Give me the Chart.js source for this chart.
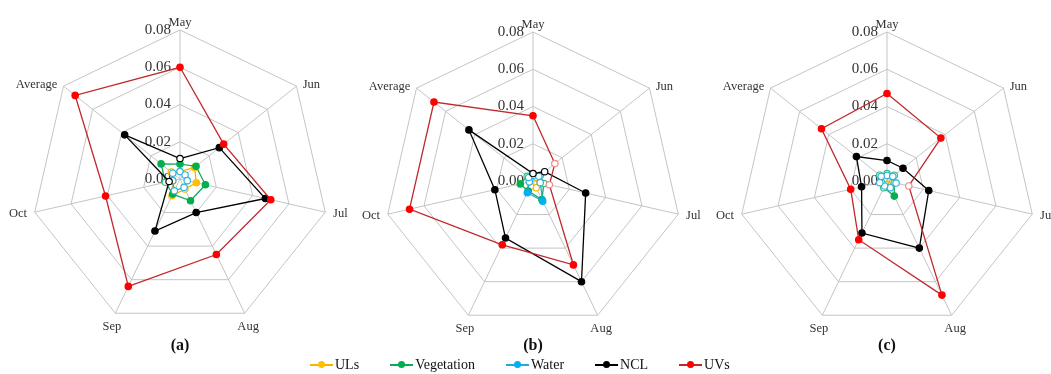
<!DOCTYPE html>
<html>
<head>
<meta charset="utf-8">
<script src="https://cdn.jsdelivr.net/npm/chart.js@4.4.1/dist/chart.umd.min.js"></script>
<style>
  html, body { margin: 0; padding: 0; background: #fff; width: 1051px; height: 374px; overflow: hidden; }
  canvas { position: absolute; top: 0; }
  .tag { position: absolute; top: 336px; width: 60px; text-align: center; font: bold 16px "Liberation Serif", serif; color: #111; }
  #legend { position: absolute; top: 356px; left: 310px; display: flex; gap: 31px; font: 14px "Liberation Serif", serif; color: #111; line-height: 18px; }
  .item { display: flex; align-items: center; white-space: nowrap; }
  .sym { position: relative; display: inline-block; width: 23px; height: 1.6px; margin-right: 2px; }
  .sym i { position: absolute; left: 8px; top: -2.8px; width: 7px; height: 7px; border-radius: 50%; }
</style>
</head>
<body>
<canvas id="ca" width="360" height="374" style="left:0px"></canvas>
<canvas id="cb" width="360" height="374" style="left:353px"></canvas>
<canvas id="cc" width="344" height="374" style="left:707px"></canvas>
<div class="tag" style="left:150px">(a)</div>
<div class="tag" style="left:503px">(b)</div>
<div class="tag" style="left:857px">(c)</div>
<div id="legend"></div>
<script>
// Axes and scale
const categories = ['May', 'Jun', 'Jul', 'Aug', 'Sep', 'Oct', 'Average'];
const tickValues = [0, 0.02, 0.04, 0.06, 0.08];
const tickLabels = ['0.00', '0.02', '0.04', '0.06', '0.08'];
const seriesNames = ['ULs', 'Vegetation', 'Water', 'NCL', 'UVs'];

// Panel (a)
const ulsA   = [0.004, 0.010, 0.009, 0.006, 0.010, 0.004, 0.006];
const vegA   = [0.008, 0.011, 0.014, 0.013, 0.009, 0.008, 0.013];
const waterA = [0.004, 0.0035, 0.004, 0.005, 0.007, 0.004, 0.005];
const nclA   = [0.011, 0.027, 0.047, 0.020, 0.031, 0.006, 0.038];
const uvsA   = [0.060, 0.030, 0.050, 0.045, 0.064, 0.041, 0.072];

// Panel (b)
const ulsB   = [0.002, 0.003, 0.004, 0.004, 0.003, 0.002, 0.002];
const vegB   = [0.004, 0.005, 0.006, 0.011, 0.006, 0.007, 0.004];
const waterB = [0.003, 0.004, 0.004, 0.012, 0.007, 0.002, 0.003];
const nclB   = [0.004, 0.008, 0.029, 0.060, 0.034, 0.021, 0.044];
const uvsB   = [0.035, 0.015, 0.009, 0.050, 0.038, 0.068, 0.068];

// Panel (c)
const ulsC   = [0.003, 0.004, 0.003, 0.003, 0.002, 0.003, 0.002];
const vegC   = [0.004, 0.005, 0.004, 0.009, 0.004, 0.003, 0.005];
const waterC = [0.003, 0.004, 0.005, 0.004, 0.003, 0.004, 0.004];
const nclC   = [0.011, 0.011, 0.023, 0.040, 0.031, 0.014, 0.021];
const uvsC   = [0.047, 0.037, 0.012, 0.068, 0.035, 0.020, 0.045];

// Open (white-filled) markers, 1 = open
const openUlsA   = [1, 0, 0, 1, 0, 1, 1];
const openVegA   = [0, 0, 0, 0, 0, 1, 0];
const openWaterA = [1, 1, 1, 1, 1, 1, 1];
const openNclA   = [1, 0, 0, 0, 0, 1, 0];
const openUvsA   = [0, 0, 0, 0, 0, 0, 0];

const openUlsB   = [1, 1, 1, 1, 1, 1, 1];
const openVegB   = [1, 1, 1, 0, 0, 0, 1];
const openWaterB = [1, 1, 1, 0, 0, 1, 1];
const openNclB   = [1, 1, 0, 0, 0, 0, 0];
const openUvsB   = [0, 1, 1, 0, 0, 0, 0];

const openUlsC   = [1, 1, 1, 1, 1, 1, 1];
const openVegC   = [1, 1, 1, 0, 1, 1, 1];
const openWaterC = [1, 1, 1, 1, 1, 1, 1];
const openNclC   = [0, 0, 0, 0, 0, 0, 0];
const openUvsC   = [0, 0, 1, 0, 0, 0, 0];

// Styling
const markerColors = ['#FFC000', '#00B050', '#00B0F0', '#000000', '#FF0000'];
const lineColors   = ['#F2B600', '#12A85C', '#22A9D6', '#000000', '#C0282D'];
const openBorders  = ['#F2B600', '#3DBE7E', '#2FB4E0', '#000000', '#EE8A8A'];
const textColor = '#333333';

// Axis labels: value ticks to the left of the vertical spoke, category names outside the rim
const axisText = {
  id: 'axisText',
  beforeDatasetsDraw(chart) {
    const s = chart.scales.r;
    const ctx = chart.ctx;
    ctx.save();
    ctx.fillStyle = textColor;
    ctx.font = '15px "Liberation Serif"';
    ctx.textAlign = 'right';
    ctx.textBaseline = 'middle';
    tickValues.forEach((v, i) => {
      ctx.fillText(tickLabels[i], s.xCenter - 9, s.yCenter - s.getDistanceFromCenterForValue(v));
    });
    ctx.font = '12.5px "Liberation Serif"';
    const R = s.drawingArea;
    chart.data.labels.forEach((lab, i) => {
      const a = s.getIndexAngle(i) - Math.PI / 2;
      const c = Math.cos(a), sn = Math.sin(a);
      let p, align, base;
      if (sn < -0.95) {
        p = s.getPointPosition(i, R + 1);
        align = 'center'; base = 'bottom';
      } else {
        p = s.getPointPosition(i, R + 8);
        align = Math.abs(c) < 0.5 ? 'center' : (c > 0 ? 'left' : 'right');
        base = sn > 0.8 ? 'top' : 'middle';
        if (sn < 0) p = { x: p.x, y: p.y + 4 };
      }
      ctx.textAlign = align;
      ctx.textBaseline = base;
      ctx.fillText(lab, p.x, p.y);
    });
    ctx.restore();
  }
};

function makeDatasets(values, open) {
  return seriesNames.map((name, k) => ({
    label: name,
    data: values[k],
    order: seriesNames.length - 1 - k,
    borderColor: lineColors[k],
    borderWidth: 1.3,
    fill: false,
    tension: 0,
    pointRadius: 3.2,
    pointBorderWidth: 1.2,
    pointBackgroundColor: open[k].map(o => o ? '#FFFFFF' : markerColors[k]),
    pointBorderColor: open[k].map(o => o ? openBorders[k] : markerColors[k])
  }));
}

function makeRadar(id, values, open, pad) {
  new Chart(document.getElementById(id), {
    type: 'radar',
    data: { labels: categories, datasets: makeDatasets(values, open) },
    options: {
      responsive: false,
      animation: false,
      layout: { padding: pad },
      plugins: { legend: { display: false }, tooltip: { enabled: false } },
      scales: {
        r: {
          min: 0,
          max: 0.08,
          ticks: { display: false, stepSize: 0.02 },
          pointLabels: { display: false },
          grid: { color: '#C4C4C4', lineWidth: 1, circular: false },
          angleLines: { color: '#C4C4C4', lineWidth: 1 }
        }
      }
    },
    plugins: [axisText]
  });
}

makeRadar('ca', [ulsA, vegA, waterA, nclA, uvsA],
  [openUlsA, openVegA, openWaterA, openNclA, openUvsA],
  { left: 31, right: 31, top: 30, bottom: 46 });
makeRadar('cb', [ulsB, vegB, waterB, nclB, uvsB],
  [openUlsB, openVegB, openWaterB, openNclB, openUvsB],
  { left: 31, right: 31, top: 32, bottom: 44 });
makeRadar('cc', [ulsC, vegC, waterC, nclC, uvsC],
  [openUlsC, openVegC, openWaterC, openNclC, openUvsC],
  { left: 31, right: 15, top: 32, bottom: 44 });

// Shared legend
const legend = document.getElementById('legend');
seriesNames.forEach((name, k) => {
  const item = document.createElement('span');
  item.className = 'item';
  const sym = document.createElement('span');
  sym.className = 'sym';
  sym.style.background = lineColors[k];
  const dot = document.createElement('i');
  dot.style.background = markerColors[k];
  sym.appendChild(dot);
  item.appendChild(sym);
  item.appendChild(document.createTextNode(name));
  legend.appendChild(item);
});
</script>
</body>
</html>
